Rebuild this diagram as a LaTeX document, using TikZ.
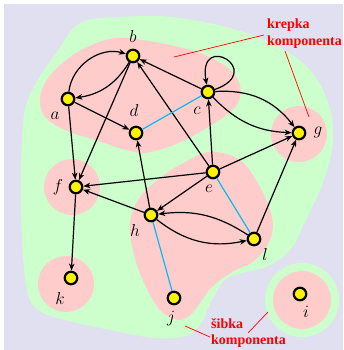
\documentclass[tikz,border=0pt]{standalone}
\usepackage{fontspec}
\newfontfamily\annfont{Liberation Serif}
\usetikzlibrary{arrows.meta}
\definecolor{bg}{RGB}{225,224,240}
\definecolor{gr}{RGB}{204,255,204}
\definecolor{pk}{RGB}{255,204,204}
\definecolor{sky}{RGB}{0,190,240}
\begin{document}
\begin{tikzpicture}[x=1pt,y=1pt,
  vert/.style={circle,draw=black,fill=yellow,line width=2.2pt,minimum size=12.5pt,inner sep=0pt},
  lab/.style={font=\fontsize{17}{20}\selectfont,inner sep=0pt},
  arr/.style={-{Stealth[length=7pt,width=5.5pt,inset=2pt]},line width=1.2pt,draw=black},
  und/.style={line width=1.2pt,draw=sky},
  ann/.style={font=\annfont\bfseries\fontsize{14}{16.8}\selectfont,text=red,align=left,inner sep=0pt},
  annline/.style={draw=red,line width=0.7pt}
]
\useasboundingbox (0,0) rectangle (343,-350);
\fill[white] (0,0) rectangle (343,-350);
\fill[bg] (4,-4) rectangle (343,-350);
% weak component (green)
\fill[gr] plot[smooth cycle, tension=0.6] coordinates {(80,-23) (120,-17) (171,-17) (230,-28) (275,-45) (305,-65) (322,-88) (332,-118) (332,-150) (322,-185) (305,-222) (290,-250) (268,-266) (245,-272) (225,-280) (212,-300) (200,-325) (185,-336) (155,-338) (115,-331) (65,-320) (38,-310) (27,-290) (22,-240) (21,-175) (24,-115) (35,-85) (57,-52)};
\fill[gr] (302,-300) circle (37);
% strong components (pink)
\fill[pk] plot[smooth cycle, tension=0.6] coordinates {(117,-38) (160,-43) (200,-53) (228,-68) (240,-85) (238,-103) (225,-116) (205,-129) (185,-140) (165,-148) (143,-153) (120,-148) (95,-140) (65,-130) (45,-117) (40,-100) (45,-83) (60,-65) (85,-48)};
\fill[pk] plot[smooth cycle, tension=0.6] coordinates {(210,-152) (240,-160) (260,-187) (272,-217) (270,-240) (254,-261) (232,-272) (212,-287) (200,-303) (190,-315) (178,-320) (160,-310) (145,-285) (134,-255) (130,-222) (140,-197) (160,-178) (185,-162)};
\fill[pk] (72,-187) circle (28);
\fill[pk] (66,-284) circle (28);
\fill[pk] (299,-134) circle (28);
\fill[pk] (302,-300) circle (29);
% annotation lines
\coordinate (k1) at (174,-57); \coordinate (k2) at (264,-35);
\coordinate (k3) at (285,-51); \coordinate (k4) at (309,-117);
\coordinate (s1) at (185,-326); \coordinate (s2) at (210,-337);
\coordinate (s3) at (248,-333); \coordinate (s4) at (268,-312);
\draw[annline] (k1) -- (k2);
\draw[annline] (k3) -- (k4);
\draw[annline] (s1) -- (s2);
\draw[annline] (s3) -- (s4);
\node[ann,anchor=north west] (kr) at (267,-19) {krepka\\komponenta};
\node[ann,anchor=north west] (sb) at (211,-318) {šibka\\komponenta};
% vertices
\node[vert] (b) at (133,-56) {};
\node[vert] (a) at (68,-99) {};
\node[vert] (d) at (136,-133) {};
\node[vert] (c) at (208,-92) {};
\node[vert] (g) at (299,-133) {};
\node[vert] (e) at (213,-172) {};
\node[vert] (f) at (76,-187) {};
\node[vert] (h) at (151,-215) {};
\node[vert] (l) at (254,-239) {};
\node[vert] (k) at (71,-278) {};
\node[vert] (j) at (174,-298) {};
\node[vert] (i) at (300,-294) {};
% labels
\node[lab] (lb) at (133,-37) {$b$};
\node[lab] (la) at (55,-116) {$a$};
\node[lab] (ld) at (134,-111) {$d$};
\node[lab] (lc) at (197,-111) {$c$};
\node[lab] (lg) at (318,-132) {$g$};
\node[lab] (le) at (209,-189) {$e$};
\node[lab] (lf) at (58,-187) {$f$};
\node[lab] (lh) at (135,-230) {$h$};
\node[lab] (ll) at (265,-254) {$l$};
\node[lab] (lk) at (60,-298) {$k$};
\node[lab] (lj) at (171,-319) {$j$};
\node[lab] (li) at (306,-312) {$i$};
% edges
\draw[arr] (a) to[bend left=50] (b);
\draw[arr] (b) to[bend left=25] (a);
\draw[arr] (a) -- (d);
\draw[arr] (a) -- (f);
\draw[arr] (b) -- (f);
\draw[arr] (c) -- (b);
\draw[arr] (e) -- (b);
\draw[und] (c) -- (d);
\draw[arr] (c) to[out=20,in=100,distance=55pt] (c);
\draw[arr] (c) to[bend left=28] (g);
\draw[arr] (c) to[bend right=22] (g);
\draw[arr] (e) -- (c);
\draw[arr] (e) -- (g);
\draw[arr] (e) -- (f);
\draw[arr] (e) -- (h);
\draw[und] (e) -- (l);
\draw[arr] (h) -- (f);
\draw[arr] (h) -- (d);
\draw[arr] (l) to[bend right=20] (h);
\draw[arr] (h) to[bend right=25] (l);
\draw[und] (h) -- (j);
\draw[arr] (l) -- (g);
\draw[arr] (f) -- (k);
\end{tikzpicture}
\end{document}
